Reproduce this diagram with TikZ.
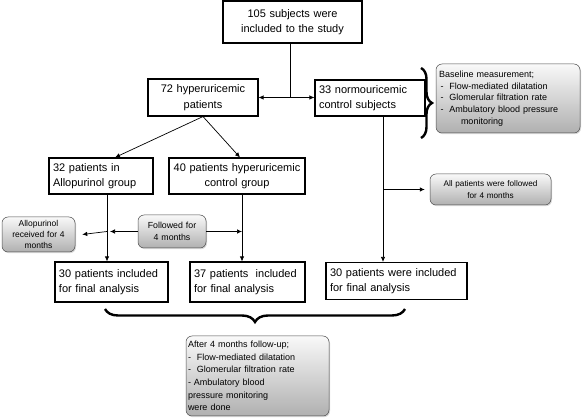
\documentclass[tikz,border=0pt]{standalone}
\usepackage{fontspec}
\setmainfont{Liberation Sans}
\usetikzlibrary{positioning,calc,arrows.meta,decorations.pathreplacing,shadows}

\tikzset{
	flowbox/.style={draw,line width=1.1pt,inner sep=4pt,font=\fontsize{11}{15.5}\selectfont},
	notebox/.style={draw=gray!60!black,line width=0.5pt,rounded corners=6pt,inner sep=3pt,
		top color=gray!5,bottom color=gray!62,
		drop shadow={opacity=0.3,shadow xshift=1pt,shadow yshift=-1.2pt},
		font=\fontsize{8.8}{12.5}\selectfont},
	link/.style={-{Latex[length=5pt,width=4.5pt]},line width=0.7pt},
	plain/.style={line width=0.7pt},
	bigbrace/.style={decorate,decoration={brace,amplitude=#1},line width=2.4pt},
}

\begin{document}
\begin{tikzpicture}[x=1pt,y=-1pt]
			\useasboundingbox (0,0) rectangle (582,419);
			%
			\node[flowbox,text width=131pt,minimum height=42pt,align=center] (subj) at (292.5,22) {105 subjects were\\included to the study};
			\node[flowbox,text width=102pt,minimum height=37pt,align=center] (hyper) at (203,97.5) {72 hyperuricemic\\patients};
			\node[flowbox,text width=102pt,minimum height=36pt,align=left] (normo) at (370,98) {33 normouricemic\\control subjects};
			\node[flowbox,text width=96pt,minimum height=36pt,align=left] (allo) at (101,176) {32 patients in\\Allopurinol group};
			\node[flowbox,text width=128pt,minimum height=36pt,align=center] (hctl) at (237,176) {40 patients hyperuricemic\\control group};
			\node[flowbox,text width=105pt,minimum height=40pt,align=left] (finA) at (111.5,282) {30 patients included\\for final analysis};
			\node[flowbox,text width=107pt,minimum height=40pt,align=left] (finB) at (247.5,282) {37 patients\ \ included\\for final analysis};
			\node[flowbox,text width=133pt,minimum height=37pt,align=left] (finC) at (396.5,281) {30 patients were included\\for final analysis};
			%
			\node[notebox,text width=138pt,minimum height=69pt,align=left,font=\fontsize{9}{11.8}\selectfont] (base) at (508,98.5) {Baseline measurement;\\
				\,-\ \ Flow-mediated dilatation\\
				\,-\ \ Glomerular filtration rate\\
				\,-\ \ Ambulatory blood pressure\\
				\hspace*{22pt}monitoring};
			\node[notebox,text width=115pt,minimum height=31pt,align=center,font=\fontsize{8.2}{12.5}\selectfont] (allpat) at (490.5,189.5) {All patients were followed\\for 4 months};
			\node[notebox,text width=69pt,minimum height=35pt,inner sep=2pt,align=center,font=\fontsize{8.5}{10.8}\selectfont] (allonote) at (38.5,234.5) {Allopurinol\\received for 4\\months};
			\node[notebox,text width=62pt,minimum height=33pt,align=center] (follow) at (172,231.5) {Followed for\\4 months};
			\node[notebox,text width=139pt,minimum height=80pt,inner sep=2pt,align=left,font=\fontsize{9}{12.6}\selectfont] (after) at (257.5,376) {After 4 months follow-up;\\
				-\ \ Flow-mediated dilatation\\
				-\ \ Glomerular filtration rate\\
				- Ambulatory blood\\
				pressure monitoring\\
				were done};
			%
			\coordinate (split) at ([xshift=-2.5pt]subj.south |- hyper.east);
			\draw[plain] ([xshift=-2.5pt]subj.south) -- (split);
			\draw[link] (split) -- (hyper.east);
			\draw[link] (split) -- (split -| normo.west);
			\draw[link] (hyper.south) -- ([xshift=14pt]allo.north);
			\draw[link] (hyper.south) -- ([xshift=3pt]hctl.north);
			%
			\coordinate (colA) at ([xshift=6pt]allo.south);
			\coordinate (colB) at ([xshift=5pt]hctl.south);
			\coordinate (colC) at ([xshift=13pt]normo.south);
			\draw[link] (colA) -- (colA |- finA.north);
			\draw[link] (colB) -- (colB |- finB.north);
			\draw[link] (colC) -- (colC |- finC.north);
			\draw[link] (follow.west) -- ([xshift=3pt]follow.west -| colA);
			\draw[link] (follow.west -| colA) -- ([xshift=7pt]allonote.east);
			\draw[link] (follow.east) -- (follow.east -| colB);
			\draw[link] (colC |- allpat.west) -- ([xshift=-5pt]allpat.west);
			%
			\draw[bigbrace=11pt] (421,68) -- (421,138);
			\draw[bigbrace=13pt] (405,309) -- (105,309);
		\end{tikzpicture}
\end{document}
